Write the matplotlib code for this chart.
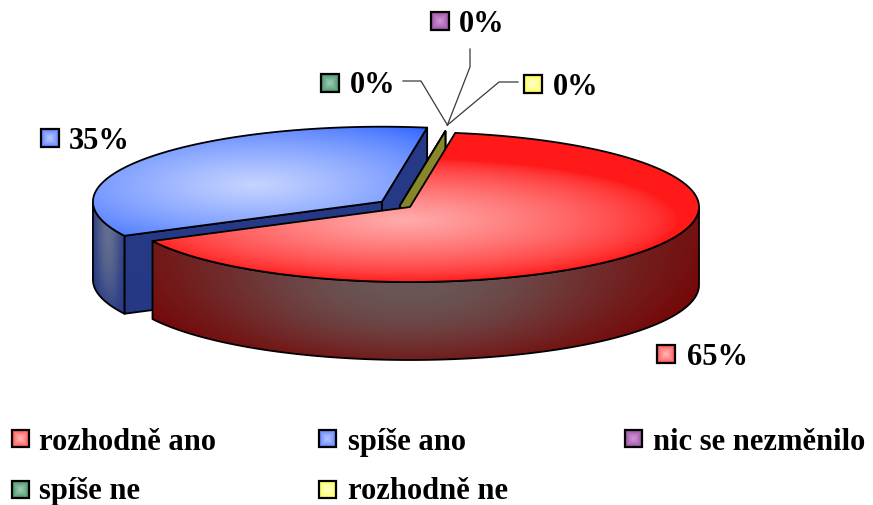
import numpy as np
import matplotlib
matplotlib.use("Agg")
import matplotlib.pyplot as plt
from matplotlib.patches import Polygon, Rectangle

# ---- data -------------------------------------------------------------
categories = ["rozhodně ano", "spíše ano", "nic se nezměnilo", "spíše ne", "rozhodně ne"]
shares = [65, 35, 0, 0, 0]          # percent
explode = [0.0, 0.12, 0.0, 0.0, 0.0]

# ---- styling ----------------------------------------------------------
FONT = dict(family="Liberation Serif", weight="bold", size=22)
# per slice: (top edge, top highlight, wall dark, wall light, cut face)
SHADES = [
    ((255, 25, 25), (255, 172, 172), (118, 4, 4), (106, 86, 86), (120, 10, 10)),
    ((40, 95, 255), (198, 212, 255), (35, 55, 130), (100, 110, 145), (38, 58, 135)),
    ((150, 60, 160), (215, 160, 220), (80, 30, 85), (110, 80, 115), (95, 40, 100)),
    ((50, 140, 100), (160, 210, 180), (25, 80, 55), (80, 110, 95), (35, 95, 65)),
    ((255, 255, 50), (255, 255, 200), (120, 120, 30), (150, 150, 60), (138, 138, 45)),
]
# highlight centre of each top face, as a fraction of the radii from the slice centre
TOP_LIGHT = [(-0.02, 0.18), (-0.44, -0.22), (0, 0), (0, 0), (0, 0)]
# highlight spread (x, y) of each top face, as a fraction of the radii
TOP_SPREAD = [(0.95, 0.82), (0.9, 1.0), (1, 1), (1, 1), (1, 1)]
MARKER = [
    ((255, 70, 70), (255, 185, 185)),
    ((85, 120, 255), (185, 200, 255)),
    ((145, 75, 155), (210, 150, 215)),
    ((60, 140, 100), (160, 205, 180)),
    ((255, 255, 70), (255, 255, 210)),
]

W, H = 873, 506
CX, CY = 410.0, 208.0       # pie centre (pixels)
RX, RY = 289.0, 75.0        # ellipse radii of the top face
DEPTH = 78.0                # thickness of the pie
START = 9.0                 # first slice angle, clockwise from 12 o'clock
ZERO_GAP_POS = 0.35         # zero slices sit in the gap of the exploded slice

fig = plt.figure(figsize=(W / 100, H / 100), dpi=100)
ax = fig.add_axes([0, 0, 1, 1])
ax.axis("off")


def rgb(c):
    return np.array(c, dtype=float) / 255.0


def mix(c0, c1, w):
    c0, c1 = rgb(c0), rgb(c1)
    return c0 + (c1 - c0) * np.clip(w, 0, 1)[..., None]


def pt(c, th, dz=0.0):
    t = np.radians(th)
    return np.array([c[0] + RX * np.sin(t), c[1] - RY * np.cos(t) + dz])


def arc(c, a, b, dz=0.0):
    th = np.radians(np.linspace(a, b, max(3, int(abs(b - a) * 2))))
    return np.column_stack([c[0] + RX * np.sin(th), c[1] - RY * np.cos(th) + dz])


def grad_poly(verts, func, z, lw=1.3):
    verts = np.asarray(verts, dtype=float)
    x0, y0 = verts.min(0) - 1
    x1, y1 = verts.max(0) + 1
    nx, ny = int(x1 - x0) + 2, int(y1 - y0) + 2
    X, Y = np.meshgrid(np.linspace(x0, x1, nx), np.linspace(y0, y1, ny))
    im = ax.imshow(func(X, Y), extent=(x0, x1, y1, y0), origin="upper",
                   interpolation="bilinear", aspect="auto", zorder=z)
    clip = Polygon(verts, closed=True, transform=ax.transData)
    im.set_clip_path(clip)
    ax.add_patch(Polygon(verts, closed=True, facecolor="none", edgecolor="black",
                         lw=lw, joinstyle="round", zorder=z + 0.5))


# ---- slice geometry ---------------------------------------------------
spans = [s / 100.0 * 360.0 for s in shares]
starts = START + np.concatenate([[0], np.cumsum(spans)[:-1]])
centres = []
for a, sp, e in zip(starts, spans, explode):
    mid = np.radians(a + sp / 2)
    centres.append(np.array([CX + e * RX * np.sin(mid), CY - e * RY * np.cos(mid)]))
# zero slices are placed in the gap opened by the exploded neighbour
gap_c = np.array([CX, CY]) + ZERO_GAP_POS * (centres[1] - np.array([CX, CY]))
for i, s in enumerate(shares):
    if s == 0:
        centres[i] = gap_c


def draw_slice(i, z):
    c = centres[i]
    a, b = starts[i], starts[i] + spans[i]
    top_e, top_h, wall_d, wall_l, face = SHADES[i]

    # radial cut faces (visible when facing the viewer)
    def face_fn(X, Y):
        t = np.clip((Y - Y.min()) / (Y.max() - Y.min() + 1e-9), 0, 1)
        return mix(face, wall_d, 0.5 * t)

    if np.sin(np.radians(a)) < 0:
        p = pt(c, a)
        grad_poly([c, p, p + [0, DEPTH], c + [0, DEPTH]], face_fn, z)
    if np.sin(np.radians(b)) > 0:
        p = pt(c, b)
        grad_poly([c, p, p + [0, DEPTH], c + [0, DEPTH]], face_fn, z + 1)
    if spans[i] == 0:
        return

    # outer wall: the front half of the rim
    for lo, hi in ((90, 270), (450, 630)):
        s0, s1 = max(a, lo), min(b, hi)
        if s1 > s0:
            top = arc(c, s0, s1)
            bot = arc(c, s0, s1, DEPTH)[::-1]
            xmin, xmax = top[:, 0].min(), top[:, 0].max()
            xc = 0.5 * (xmin + xmax) - 0.03 * (xmax - xmin)
            xs = max(12.0, 0.40 * (xmax - xmin))

            def wall_fn(X, Y, c=c, xc=xc, xs=xs):
                u = np.clip((X - c[0]) / RX, -1, 1)
                ytop = c[1] + RY * np.sqrt(1 - u ** 2)
                t = np.clip((Y - ytop) / DEPTH, 0, 1)
                w = np.exp(-(np.abs(X - xc) / xs) ** 2.2) * (1 - 0.7 * t ** 2)
                return mix(wall_d, wall_l, w)

            grad_poly(np.vstack([top, bot]), wall_fn, z + 2)

    # top face
    hx = c[0] + TOP_LIGHT[i][0] * RX
    hy = c[1] + TOP_LIGHT[i][1] * RY
    sx, sy = TOP_SPREAD[i][0] * RX, TOP_SPREAD[i][1] * RY

    def top_fn(X, Y):
        r = np.sqrt(((X - hx) / sx) ** 2 + ((Y - hy) / sy) ** 2)
        return mix(top_e, top_h, np.clip(1 - r, 0, 1) ** 0.7)

    grad_poly(np.vstack([[c], arc(c, a, b)]), top_fn, z + 3)


# back slices first, then the zero slices, then slices reaching the front (180 deg)
front = [starts[i] <= 180 <= starts[i] + spans[i] for i in range(len(shares))]
order = [i for i in range(len(shares)) if shares[i] > 0 and not front[i]] + \
        [i for i in range(len(shares)) if shares[i] == 0] + \
        [i for i in range(len(shares)) if shares[i] > 0 and front[i]]
for k, i in enumerate(order):
    draw_slice(i, 10 + 5 * k)


# ---- labels -----------------------------------------------------------
def marker(x, y, i, z=60, s=18):
    edge, centre = MARKER[i]
    X, Y = np.meshgrid(np.linspace(-1, 1, 24), np.linspace(-1, 1, 24))
    w = 1 - np.maximum(np.abs(X), np.abs(Y))
    ax.imshow(mix(edge, centre, w ** 0.7), extent=(x, x + s, y + s, y), origin="upper",
              interpolation="bilinear", aspect="auto", zorder=z)
    ax.add_patch(Rectangle((x, y), s, s, facecolor="none", edgecolor="black", lw=1.6, zorder=z + 1))


# marker top-left and text baseline position for every data label
label_pos = {0: ((657, 346), (687, 365)),
             1: ((41, 130), (69, 149)),
             2: ((431, 13), (459, 32)),
             3: ((321, 75), (350, 93)),
             4: ((524, 76), (553, 95))}
for i, v in enumerate(shares):
    (mx, my), (tx, ty) = label_pos[i]
    marker(mx, my, i)
    ax.text(tx, ty, f"{v:.0f}%", va="baseline", ha="left", zorder=62, **FONT)

# leader lines of the zero slices to their rim point
anchor = pt(gap_c, START + sum(spans[:2])) + np.array([2.0, -6.0])
leaders = {2: [(470, 50), (470, 68)], 3: [(403, 82), (421, 82)], 4: [(518, 83), (499, 83)]}
for i, pts_ in leaders.items():
    xy = np.array(pts_ + [tuple(anchor)])
    ax.plot(xy[:, 0], xy[:, 1], color="#3a3a3a", lw=0.9, zorder=55)

# ---- legend -----------------------------------------------------------
legend_slots = [((12, 431), (39, 450)), ((319, 431), (348, 450)), ((625, 431), (653, 450)),
                ((12, 482), (39, 499)), ((319, 482), (348, 499))]
for i, name in enumerate(categories):
    (mx, my), (tx, ty) = legend_slots[i]
    marker(mx, my, i, s=17)
    ax.text(tx, ty, name, va="baseline", ha="left", zorder=62, **FONT)

ax.set_xlim(0, W)
ax.set_ylim(H, 0)
fig.savefig("out.png", dpi=100, facecolor="white")
